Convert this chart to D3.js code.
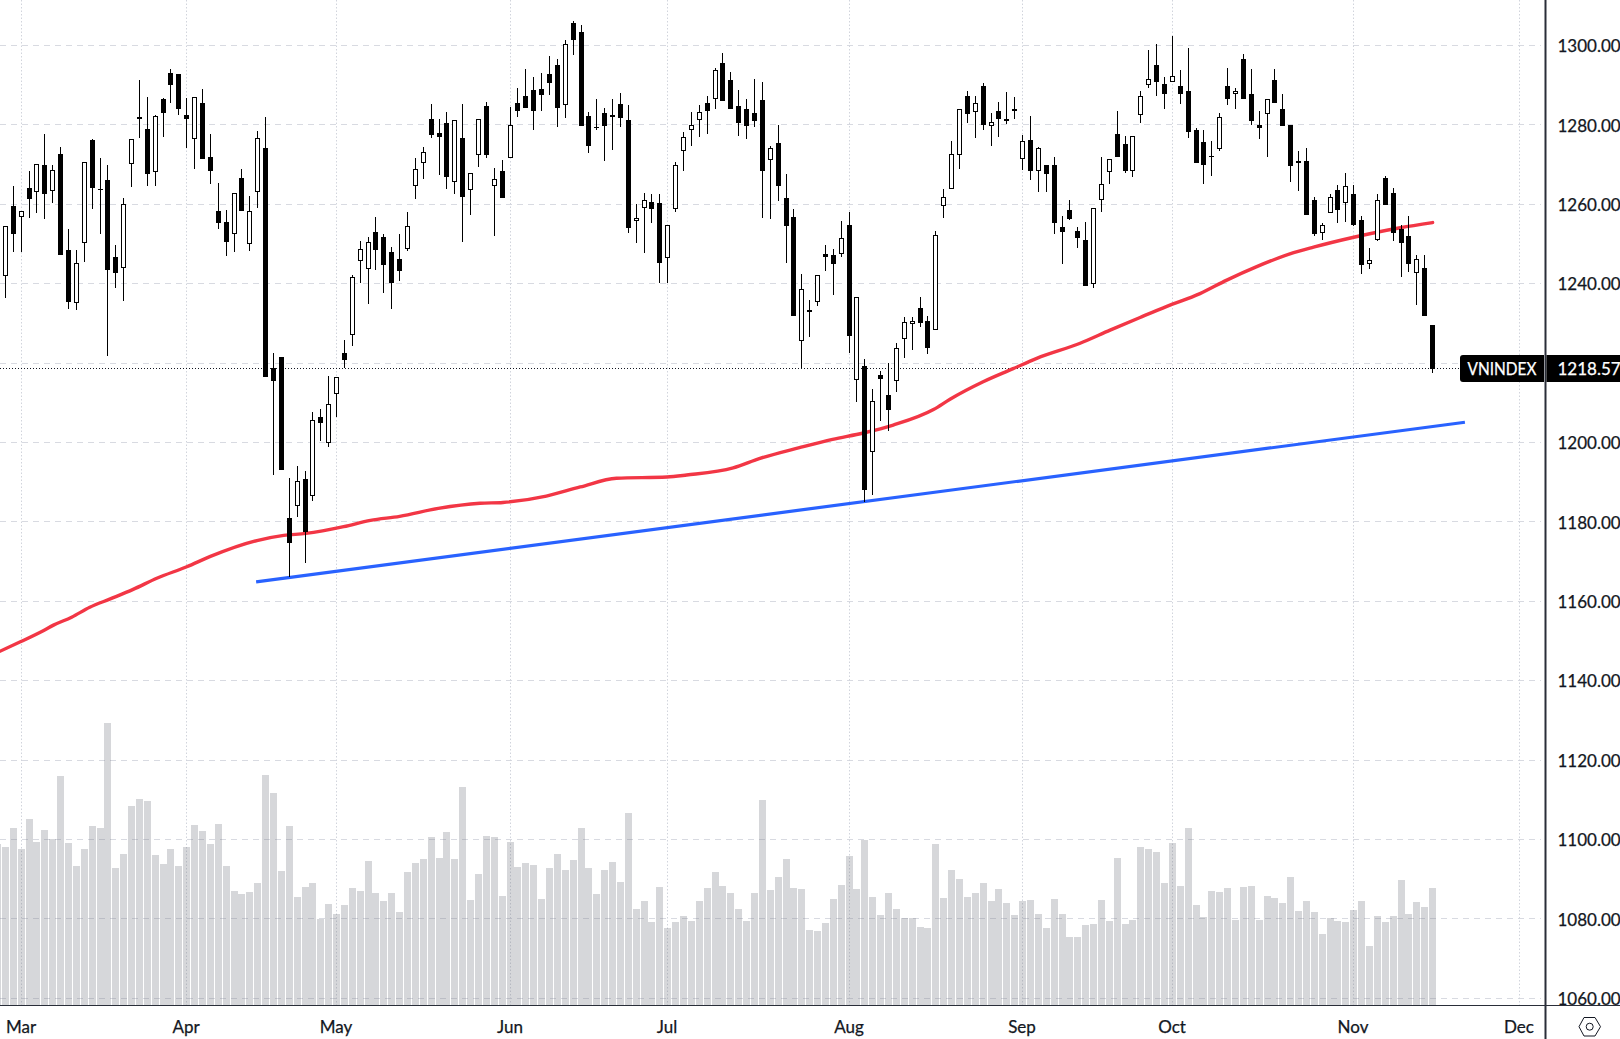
<!DOCTYPE html>
<html><head><meta charset="utf-8">
<script src="https://cdn.jsdelivr.net/npm/d3@7"></script>
<style>html,body{margin:0;padding:0;background:#fff;overflow:hidden}svg{display:block}
text{font-family:Lato,"Noto Sans",sans-serif;fill:#131722}</style></head><body>
<svg id="c" width="1620" height="1039"></svg>
<script>
const opens=[1241.9,1259.5,1256.7,1264.1,1263.0,1269.8,1263.3,1272.6,1248.4,1235.2,
1250.2,1276.2,1263.8,1266.1,1246.7,1243.9,1270.1,1282.0,1279.0,1268.1,
1286.6,1293.0,1292.7,1282.5,1276.4,1285.5,1271.9,1258.4,1255.5,1252.5,
1266.5,1250.0,1263.0,1274.1,1218.7,1221.6,1180.9,1183.9,1190.7,1186.5,
1206.4,1199.8,1212.1,1222.5,1227.0,1245.6,1243.6,1253.0,1251.7,1248.1,
1246.2,1248.7,1264.5,1270.3,1281.4,1278.0,1280.4,1265.6,1276.7,1263.5,1272.3,
1284.7,1264.5,1268.4,1271.6,1285.5,1287.2,1288.7,1289.0,1292.8,1295.1,
1284.9,1305.6,1303.3,1282.2,1279.5,1282.9,1281.9,1285.3,1281.2,1255.7,
1259.0,1260.7,1260.3,1246.4,1258.9,1273.4,1278.8,1281.2,1285.5,1286.5,
1295.5,1291.3,1284.7,1284.1,1282.9,1286.2,1271.1,1275.4,1261.5,1256.7,
1225.5,1233.3,1235.3,1247.6,1247.2,1247.4,1254.7,1215.7,1219.2,1197.6,
1216.9,1211.9,1215.4,1226.0,1229.8,1233.8,1230.5,1228.3,1259.5,1263.8,
1272.3,1287.4,1283.2,1289.7,1279.6,1283.4,1281.4,1284.0,1271.3,1276.3,
1268.4,1269.8,1269.8,1254.2,1258.5,1253.4,1250.9,1240.0,1261.2,1268.1,
1277.6,1275.1,1268.4,1282.4,1290.0,1295.0,1290.2,1290.7,1289.7,1288.5,
1278.8,1275.6,1272.2,1274.0,1289.7,1287.7,1296.5,1287.7,1279.9,1282.7,
1291.3,1284.1,1280.1,1270.9,1271.0,1261.0,1252.7,1257.9,1263.5,1260.3,
1262.5,1256.0,1244.9,1251.1,1266.5,1262.8,1253.9,1252.0,1242.8,1243.9,1229.6];
const closes=[1254.5,1252.6,1258.3,1261.4,1270.1,1262.7,1268.6,1247.3,1235.5,1245.2,
1270.6,1264.2,1263.6,1243.5,1242.6,1260.0,1276.4,1281.5,1267.7,1282.2,
1283.1,1290.1,1284.1,1281.5,1287.0,1271.5,1268.3,1255.2,1250.4,1262.8,
1258.4,1258.2,1276.7,1216.6,1215.6,1193.0,1174.8,1190.3,1177.4,1205.6,
1205.0,1209.6,1216.5,1220.9,1241.6,1248.7,1250.5,1248.6,1244.6,1240.1,
1243.3,1254.5,1268.8,1273.1,1277.5,1277.0,1267.0,1281.2,1261.9,1267.8,1281.6,
1272.5,1266.3,1261.7,1279.9,1283.4,1284.3,1283.6,1287.6,1290.6,1284.3,
1300.3,1301.5,1279.8,1274.8,1279.2,1279.8,1282.4,1281.8,1254.1,1256.5,
1261.2,1258.9,1245.3,1254.7,1269.8,1276.9,1279.9,1283.2,1283.6,1293.8,
1285.9,1283.9,1280.6,1279.8,1281.1,1268.5,1274.3,1264.7,1254.6,1231.8,
1238.6,1232.9,1242.2,1246.6,1245.0,1251.4,1226.9,1236.6,1188.1,1210.4,
1215.9,1208.3,1223.8,1230.3,1230.5,1230.2,1223.7,1252.2,1261.8,1272.6,
1284.1,1282.8,1285.4,1280.1,1280.7,1281.4,1281.1,1283.6,1275.9,1268.3,
1274.1,1267.7,1255.2,1253.1,1256.4,1251.6,1239.3,1259.0,1265.1,1271.3,
1272.0,1268.5,1277.1,1287.4,1291.5,1290.9,1287.9,1292.2,1287.9,1278.1,
1270.5,1270.0,1271.9,1281.9,1286.4,1288.5,1286.4,1281.1,1279.3,1286.5,
1285.4,1279.8,1269.7,1270.5,1257.4,1252.6,1254.7,1261.8,1258.6,1264.5,
1254.9,1244.6,1245.9,1261.2,1259.7,1252.7,1250.3,1244.9,1246.2,1231.9,1218.57];
const highs=[1254.5,1264.6,1258.4,1268.4,1270.1,1277.7,1269.8,1274.4,1253.9,1248.5,
1270.6,1276.5,1271.6,1269.8,1249.8,1261.5,1276.4,1291.3,1287.1,1282.5,
1286.8,1294.0,1292.8,1286.8,1287.0,1289.1,1277.7,1265.4,1258.5,1262.8,
1268.8,1262.1,1278.5,1282.0,1222.5,1221.6,1191.1,1194.1,1192.9,1207.7,
1208.5,1216.7,1216.5,1225.8,1242.2,1250.7,1251.8,1256.8,1252.6,1249.3,
1252.6,1258.0,1271.6,1274.4,1285.3,1281.4,1283.3,1281.2,1285.3,1267.8,1281.6,
1285.8,1269.1,1271.1,1284.5,1289.3,1294.1,1292.0,1293.1,1297.3,1296.6,
1301.4,1306.2,1305.1,1283.3,1286.6,1284.2,1286.6,1288.0,1285.0,1260.1,
1262.9,1262.6,1262.6,1254.7,1270.7,1278.2,1283.3,1285.0,1287.3,1294.4,
1298.1,1293.3,1288.8,1286.6,1291.6,1290.8,1274.7,1280.0,1267.7,1258.8,
1242.4,1235.9,1242.2,1249.7,1248.8,1255.8,1258.0,1236.6,1221.1,1213.5,
1218.0,1220.0,1225.1,1231.6,1231.6,1236.7,1231.8,1253.3,1263.8,1276.0,
1284.1,1288.6,1287.4,1290.6,1283.0,1285.8,1288.3,1287.0,1277.5,1282.2,
1274.4,1269.9,1271.9,1257.1,1261.1,1254.3,1255.5,1259.0,1271.9,1271.3,
1283.5,1277.2,1277.1,1288.6,1298.9,1300.4,1292.0,1302.4,1293.9,1299.4,
1279.1,1278.8,1276.0,1283.0,1294.4,1289.4,1297.8,1294.1,1283.5,1286.5,
1294.1,1287.8,1280.1,1273.5,1274.2,1261.8,1255.3,1262.6,1264.9,1267.8,
1264.9,1257.1,1249.0,1262.6,1267.1,1264.1,1254.7,1257.1,1247.2,1247.3,1229.6];
const lows=[1236.5,1247.9,1248.0,1256.5,1257.9,1256.4,1260.4,1247.3,1233.7,1233.5,
1245.5,1258.9,1252.6,1221.9,1239.0,1235.7,1264.4,1276.6,1264.7,1264.7,
1277.0,1285.5,1282.5,1274.2,1268.8,1271.5,1265.2,1253.9,1247.1,1247.9,
1258.4,1248.3,1259.1,1216.6,1191.9,1193.0,1166.1,1181.3,1169.7,1185.3,
1200.5,1198.9,1206.4,1218.7,1224.4,1240.1,1235.0,1243.5,1237.7,1233.7,
1240.8,1248.2,1261.4,1266.4,1276.8,1267.5,1263.9,1262.5,1250.6,1257.4,1269.5,
1271.7,1252.1,1261.7,1271.6,1282.1,1284.3,1278.6,1283.4,1287.6,1279.5,
1281.8,1297.7,1279.8,1272.8,1278.6,1270.8,1273.7,1279.5,1252.8,1250.3,
1247.8,1255.4,1240.2,1240.2,1258.1,1268.5,1274.8,1277.0,1277.8,1283.9,
1285.9,1283.9,1277.3,1276.5,1279.5,1256.6,1256.4,1260.9,1245.3,1231.8,
1218.7,1226.6,1234.3,1243.3,1237.2,1246.6,1222.6,1210.1,1184.9,1186.9,
1205.3,1202.8,1212.6,1221.4,1223.2,1229.2,1222.4,1228.3,1256.6,1263.8,
1269.0,1280.6,1276.8,1278.8,1274.8,1277.0,1280.3,1281.5,1268.6,1266.2,
1263.2,1263.2,1252.4,1245.0,1256.0,1249.1,1239.3,1239.0,1258.1,1265.0,
1272.0,1268.0,1267.0,1280.6,1289.4,1287.3,1284.1,1290.7,1285.3,1276.8,
1270.5,1265.0,1267.2,1273.3,1285.1,1283.9,1286.4,1280.1,1276.5,1272.0,
1285.4,1279.8,1265.7,1263.4,1257.4,1251.9,1251.1,1257.7,1255.4,1255.6,
1254.6,1242.5,1243.8,1250.8,1259.7,1250.8,1241.6,1243.0,1234.7,1231.9,1217.4];
// first entry is the session just left of the visible candles (index -1)
const volumes=[483,474,531,468,558,489,525,498,687,486,417,
468,537,531,846,411,453,597,618,612,450,
423,468,417,474,540,522,483,543,417,342,
333,339,366,690,636,402,537,324,354,366,
258,303,273,300,351,342,432,336,312,336,
279,399,426,438,504,441,519,438,654,315,
393,507,504,327,489,414,426,420,318,
411,453,405,435,531,411,333,405,429,369,
576,288,312,249,354,231,249,267,252,312,
351,399,357,336,288,252,336,615,345,384,
438,351,348,225,222,246,318,360,447,348,
495,324,270,336,288,261,261,234,231,483,
321,405,378,324,336,366,312,348,306,270,
312,315,273,231,318,273,204,204,
240,243,315,252,441,243,255,474,468,459,
366,486,357,531,300,264,342,339,351,255,
354,357,255,327,321,306,384,282,312,279,
213,261,252,249,285,312,177,267,249,267,
375,273,309,294,351];
const maIndex=[-0.7,1.9,4.8,6.1,8.4,10.7,13.3,16.2,19.2,23,26,31.9,35.3,38.1,42.9,46.3,50,54.9,60.2,63.1,68.6,72.9,77.5,83.9,86.4,92.3,95.7,100.7,104.9,108.8,112.6,117.7,119.8,124,127.8,130.8,136.3,140.1,143.9,147.3,151.5,154.9,158.7,162.9,165.9,171,176.9,181];
const maValue=[1147.4,1149.8,1152.6,1154.0,1156.0,1158.5,1160.6,1163.0,1165.8,1168.7,1171.3,1175.3,1176.6,1177.1,1178.8,1180.4,1181.4,1183.4,1184.7,1184.9,1186.5,1188.8,1191.0,1191.3,1191.8,1193.6,1196.0,1198.7,1200.8,1202.4,1204.4,1208.3,1210.9,1215.3,1218.6,1221.2,1225.0,1228.3,1231.5,1234.3,1237.5,1240.9,1244.3,1247.5,1249.2,1251.7,1254.1,1255.4];
const trendIndex=[31.8,185.1];
const trendValue=[1164.9,1205.1];
const gridPrices=[1060,1080,1100,1120,1140,1160,1180,1200,1220,1240,1260,1280,1300];
const priceTicks=[1060,1080,1100,1120,1140,1160,1180,1200,1240,1260,1280,1300];
const monthLabels=["Mar","Apr","May","Jun","Jul","Aug","Sep","Oct","Nov","Dec"];
const monthIndex=[2,23,42,64,84,107,129,148,171,192];
const symbol="VNINDEX";
const lastPrice=1218.57;

const svg=d3.select("#c");
const W=1620,H=1039,axisX=1545.5,axisY=1005;
const FS=17;
const x=d3.scaleLinear().domain([0,181]).range([5.4,1432.6]);
const y=d3.scaleLinear().domain([1060,1300]).range([998.3,45.5]);
const v=d3.scaleLinear().domain([0,846]).range([axisY,723]);
const px=i=>Math.floor(x(i))+0.5;
const py=p=>Math.floor(y(p))+0.5;

// grid
const grid=svg.append("g");
grid.selectAll("line.h").data(gridPrices).join("line").attr("class","h")
 .attr("x1",0).attr("x2",1541).attr("y1",py).attr("y2",py)
 .attr("stroke","#d8dae1").attr("stroke-width",1).attr("stroke-dasharray","6,5");
grid.selectAll("line.v").data(monthIndex).join("line").attr("class","v")
 .attr("x1",px).attr("x2",px).attr("y1",0).attr("y2",axisY)
 .attr("stroke","#d1d4dc").attr("stroke-width",1).attr("stroke-dasharray","1.5,2");

// volume
svg.append("g").selectAll("rect").data(volumes).join("rect")
 .attr("x",(d,i)=>Math.floor(x(i-1))-3).attr("width",7)
 .attr("y",d=>v(d)).attr("height",d=>axisY-v(d))
 .attr("fill","#787b86").attr("fill-opacity",0.3);

// last price line
svg.append("line").attr("x1",0).attr("x2",1460).attr("y1",py(lastPrice)).attr("y2",py(lastPrice))
 .attr("stroke","#131722").attr("stroke-width",1).attr("stroke-dasharray","1,2");

// moving average and trend line
const ln=d3.line().x(d=>x(d[0])).y(d=>y(d[1])).curve(d3.curveMonotoneX);
svg.append("path").datum(d3.zip(maIndex,maValue)).attr("d",ln).attr("fill","none")
 .attr("stroke","#f23645").attr("stroke-width",3.4).attr("stroke-linecap","round");
svg.append("path").datum(d3.zip(trendIndex,trendValue)).attr("d",d3.line().x(d=>x(d[0])).y(d=>y(d[1]))).attr("fill","none")
 .attr("stroke","#2962ff").attr("stroke-width",3.2);

// candles
const cg=svg.append("g").selectAll("g").data(d3.range(opens.length)).join("g");
cg.append("line").attr("x1",px).attr("x2",px).attr("y1",i=>Math.round(y(highs[i]))).attr("y2",i=>Math.round(y(lows[i])))
 .attr("stroke","#000").attr("stroke-width",1);
cg.append("rect").each(function(i){
  const up=closes[i]>opens[i];
  const t=Math.round(y(Math.max(opens[i],closes[i]))), b=Math.round(y(Math.min(opens[i],closes[i])));
  const s=d3.select(this);
  if(up){ s.attr("x",px(i)-2).attr("width",4).attr("y",t+.5).attr("height",Math.max(b-t-1,1))
    .attr("fill","#fff").attr("stroke","#000").attr("stroke-width",1); }
  else { s.attr("x",px(i)-2.5).attr("width",5).attr("y",t).attr("height",Math.max(b-t,1)).attr("fill","#000"); }
});

// axes
const right=svg.append("g").attr("transform",`translate(1557.5,0.8)`)
 .call(d3.axisRight(y).tickValues(priceTicks).tickFormat(d3.format(".2f")).tickSize(0).tickPadding(0));
right.select(".domain").remove();
right.selectAll("text").attr("font-size",FS).style("font-family",'Lato').style("fill","#131722").style("stroke","#131722").style("stroke-width",0.25);
const xAxisScale=d3.scaleOrdinal().domain(monthIndex).range(monthIndex.map(i=>px(i)-1));
const bottom=svg.append("g").attr("transform",`translate(0,1021)`)
 .call(d3.axisBottom(xAxisScale).tickFormat((d,i)=>monthLabels[i]).tickSize(0).tickPadding(0));
bottom.select(".domain").remove();
bottom.selectAll("text").attr("font-size",FS).style("font-family",'Lato').style("fill","#131722").style("stroke","#131722").style("stroke-width",0.25);

svg.append("line").attr("x1",axisX).attr("x2",axisX).attr("y1",0).attr("y2",H).attr("stroke","#2a2e39").attr("stroke-width",2);
svg.append("line").attr("x1",0).attr("x2",W).attr("y1",axisY+.5).attr("y2",axisY+.5).attr("stroke","#2a2e39").attr("stroke-width",1.2);

// labels
svg.append("path").attr("d","M1463,355H1544V382H1463Q1460,382 1460,379V358Q1460,355 1463,355Z").attr("fill","#000");
svg.append("rect").attr("x",1546.5).attr("y",355).attr("width",74).attr("height",27).attr("fill","#000");
svg.append("text").attr("x",1502).attr("y",369.3).attr("dy","0.35em").attr("text-anchor","middle").attr("font-size",FS)
 .attr("textLength",69).attr("lengthAdjust","spacingAndGlyphs").style("fill","#fff").style("stroke","#fff").style("stroke-width",0.25).text(symbol);
svg.append("text").attr("x",1557.5).attr("y",369.3).attr("dy","0.35em").attr("font-size",FS).style("fill","#fff").style("stroke","#fff").style("stroke-width",0.25).text(d3.format(".2f")(lastPrice));

// settings icon
svg.append("path").attr("d","M1579,1026.7L1584,1017.5H1595L1600.5,1026.7L1595,1036H1584Z").attr("fill","none").attr("stroke","#131722").attr("stroke-width",1);
svg.append("circle").attr("cx",1589.7).attr("cy",1026.7).attr("r",3.5).attr("fill","none").attr("stroke","#131722").attr("stroke-width",1);
</script></body></html>
